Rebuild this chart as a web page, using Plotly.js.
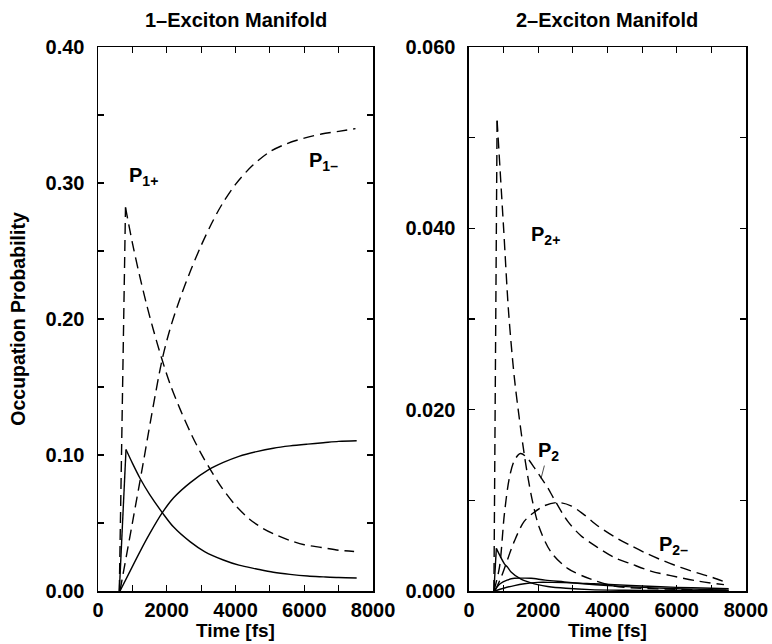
<!DOCTYPE html>
<html>
<head>
<meta charset="utf-8">
<script src="https://cdn.plot.ly/plotly-3.0.1.min.js"></script>
<style>html,body{margin:0;padding:0;background:#fff;}#chart{width:772px;height:644px;}</style>
</head>
<body>
<div id="chart"></div>
<script>
// ---- 1-Exciton manifold (left panel) ----
const p1PlusDashT = [620, 800, 1000, 1200, 1400, 1600, 1865, 2100, 2400, 2700, 3000, 3300, 3600, 4000, 4400, 4800, 5200, 5600, 6000, 6500, 7000, 7450];
const p1PlusDashV = [0, 0.282, 0.256, 0.233, 0.212, 0.193, 0.170, 0.152, 0.133, 0.116, 0.101, 0.088, 0.076, 0.063, 0.053, 0.046, 0.041, 0.037, 0.034, 0.032, 0.030, 0.029];

const p1MinusDashT = [640, 1000, 1300, 1550, 1865, 2100, 2400, 2700, 3000, 3300, 3600, 4000, 4500, 5000, 5500, 6000, 6500, 7000, 7490];
const p1MinusDashV = [0, 0.050, 0.092, 0.128, 0.170, 0.193, 0.216, 0.236, 0.254, 0.270, 0.284, 0.299, 0.313, 0.323, 0.329, 0.333, 0.336, 0.338, 0.340];

const p1PlusSolidT = [620, 815, 1000, 1222, 1500, 1871, 2200, 2676, 3100, 3646, 4100, 4616, 5100, 5585, 6100, 6554, 7000, 7525];
const p1PlusSolidV = [0, 0.104, 0.094, 0.0829, 0.071, 0.0576, 0.047, 0.0363, 0.029, 0.0228, 0.019, 0.0162, 0.0138, 0.0122, 0.011, 0.0104, 0.0099, 0.0096];

const p1MinusSolidT = [640, 900, 1222, 1500, 1871, 2200, 2676, 3210, 3646, 4100, 4616, 5100, 5585, 6100, 6554, 7000, 7525];
const p1MinusSolidV = [0, 0.013, 0.029, 0.042, 0.0576, 0.0685, 0.0795, 0.089, 0.0945, 0.099, 0.1025, 0.105, 0.1067, 0.108, 0.109, 0.110, 0.1105];

// ---- 2-Exciton manifold (right panel) ----
const p2PlusDashT = [720, 812, 1000, 1147, 1311, 1455, 1580, 1695, 1840, 2030, 2368, 2848, 3520, 4190, 5000, 6000, 7000, 7500];
const p2PlusDashV = [0, 0.0519, 0.040, 0.0306, 0.0235, 0.0190, 0.0155, 0.0127, 0.0098, 0.0070, 0.0043, 0.0025, 0.0013, 0.00055, 0.0003, 0.00018, 0.0001, 0.0001];

const p2DashT = [720, 879, 1023, 1167, 1311, 1484, 1650, 1888, 2080, 2272, 2464, 2848, 3233, 3713, 4193, 4674, 5250, 5827, 6594, 7363];
const p2DashV = [0, 0.0026, 0.0085, 0.0125, 0.0144, 0.01517, 0.0148, 0.0136, 0.0125, 0.0114, 0.0101, 0.0077, 0.0061, 0.0048, 0.0037, 0.0030, 0.0022, 0.0017, 0.0011, 0.0007];

const p2MinusDashT = [750, 928, 1311, 1599, 1888, 2176, 2560, 2945, 3329, 3713, 4193, 4674, 5154, 5634, 6115, 6594, 7026, 7458];
const p2MinusDashV = [0, 0.0015, 0.0055, 0.0077, 0.0087, 0.0094, 0.00976, 0.0094, 0.0084, 0.0072, 0.0060, 0.0050, 0.0041, 0.0033, 0.0026, 0.0020, 0.0015, 0.0009];

const p2PlusSolidT = [720, 790, 1023, 1119, 1215, 1503, 1792, 1984, 2272, 2800, 3500, 4500, 5500, 6500, 7500];
const p2PlusSolidV = [0, 0.0047, 0.0030, 0.0026, 0.0021, 0.0013, 0.0009, 0.0007, 0.0005, 0.0003, 0.00015, 0.00008, 0.00005, 0.00003, 0.00002];

const p2SolidT = [720, 900, 1100, 1311, 1600, 1792, 2200, 2752, 3300, 4000, 5000, 6000, 7000, 7500];
const p2SolidV = [0, 0.0008, 0.0012, 0.0014, 0.00142, 0.0014, 0.0012, 0.0010, 0.0008, 0.0006, 0.0004, 0.00025, 0.00015, 0.0001];

const p2MinusSolidT = [750, 1000, 1311, 1600, 1984, 2400, 3000, 3600, 4200, 5000, 6000, 7000, 7500];
const p2MinusSolidV = [0, 0.0003, 0.0006, 0.0008, 0.00095, 0.00095, 0.0009, 0.0008, 0.0007, 0.00055, 0.0004, 0.0003, 0.00025];

// tick labels
const xTickVals = [0, 2000, 4000, 6000, 8000];
const xTickText = ['0', '2000', '4000', '6000', '8000'];
const y1TickVals = [0, 0.1, 0.2, 0.3, 0.4];
const y1TickText = ['0.00', '0.10', '0.20', '0.30', '0.40'];
const y2TickVals = [0, 0.02, 0.04, 0.06];
const y2TickText = ['0.000', '0.020', '0.040', '0.060'];

const FONT = 'Liberation Sans, Arial, Helvetica, sans-serif';
const DASH = '11px,6px';
const LW = 1.4;

function line(x, y, dashed, xa, ya, shape) {
  return {x: x, y: y, xaxis: xa, yaxis: ya, mode: 'lines', type: 'scatter',
    line: {color: '#000', width: LW, dash: dashed ? DASH : 'solid', shape: shape, smoothing: 0.9}, hoverinfo: 'skip'};
}
// smooth curve
function smooth(x, y, dashed, xa, ya) { return [line(x, y, dashed, xa, ya, 'spline')]; }
// curve with a sharp peak: straight rise, smooth decay
function peaked(x, y, dashed, xa, ya) {
  let k = 0;
  for (let i = 1; i < y.length; i++) if (y[i] > y[k]) k = i;
  return [line(x.slice(0, k + 1), y.slice(0, k + 1), dashed, xa, ya, 'linear'),
          line(x.slice(k), y.slice(k), dashed, xa, ya, 'spline')];
}

const data = [].concat(
  peaked(p1PlusDashT, p1PlusDashV, true, 'x', 'y'),
  smooth(p1MinusDashT, p1MinusDashV, true, 'x', 'y'),
  peaked(p1PlusSolidT, p1PlusSolidV, false, 'x', 'y'),
  smooth(p1MinusSolidT, p1MinusSolidV, false, 'x', 'y'),
  peaked(p2PlusDashT, p2PlusDashV, true, 'x2', 'y2'),
  smooth(p2DashT, p2DashV, true, 'x2', 'y2'),
  smooth(p2MinusDashT, p2MinusDashV, true, 'x2', 'y2'),
  peaked(p2PlusSolidT, p2PlusSolidV, false, 'x2', 'y2'),
  smooth(p2SolidT, p2SolidV, false, 'x2', 'y2'),
  smooth(p2MinusSolidT, p2MinusSolidV, false, 'x2', 'y2')
);

function xAxis(domain, anchor) {
  return {domain: domain, anchor: anchor, range: [0, 8000], tickvals: xTickVals, ticktext: xTickText,
    ticks: 'inside', ticklen: 6, tickwidth: 1.2, tickcolor: '#000', mirror: 'ticks',
    showline: true, linecolor: '#000', linewidth: 1.5, showgrid: false, zeroline: false,
    minor: {dtick: 1000, tick0: 0, ticks: 'inside', ticklen: 6, tickwidth: 1.2, tickcolor: '#000', showgrid: false},
    tickfont: {family: FONT, size: 20, color: '#000', weight: 'bold'},
    title: {text: 'Time [fs]', font: {family: FONT, size: 19, color: '#000', weight: 'bold'}, standoff: 4}};
}
function yAxis(range, vals, text, minorDtick, anchor, title) {
  const a = {range: range, anchor: anchor, tickvals: vals, ticktext: text,
    ticks: 'inside', ticklen: 6, tickwidth: 1.2, tickcolor: '#000', mirror: 'ticks',
    showline: true, linecolor: '#000', linewidth: 1.5, showgrid: false, zeroline: false,
    minor: {dtick: minorDtick, tick0: 0, ticks: 'inside', ticklen: 6, tickwidth: 1.2, tickcolor: '#000', showgrid: false},
    tickfont: {family: FONT, size: 20, color: '#000', weight: 'bold'}, ticklabelstandoff: 8};
  if (title) a.title = {text: title, font: {family: FONT, size: 19.5, color: '#000', weight: 'bold'}, standoff: 14};
  return a;
}

const labFont = {family: FONT, size: 20, color: '#000', weight: 'bold'};
const titleFont = {family: FONT, size: 20, color: '#000', weight: 'bold'};
const layout = {
  width: 772, height: 644,
  margin: {l: 98, r: 26, t: 47, b: 53},
  paper_bgcolor: '#fff', plot_bgcolor: '#fff', showlegend: false,
  xaxis: xAxis([0, 0.4244], 'y'),
  yaxis: yAxis([0, 0.4], y1TickVals, y1TickText, 0.05, 'x', 'Occupation Probability'),
  xaxis2: xAxis([0.5725, 1], 'y2'),
  yaxis2: yAxis([0, 0.06], y2TickVals, y2TickText, 0.01, 'x2', null),
  annotations: [
    {text: '1–Exciton Manifold', xref: 'x domain', yref: 'paper', x: 0.5, y: 1, yanchor: 'middle', yshift: 27, showarrow: false, font: titleFont},
    {text: '2–Exciton Manifold', xref: 'x2 domain', yref: 'paper', x: 0.5, y: 1, yanchor: 'middle', yshift: 27, showarrow: false, font: titleFont},
    {text: 'P<sub>1+</sub>', xref: 'x', yref: 'y', x: 830, y: 0.305, xanchor: 'left', yanchor: 'middle', showarrow: false, font: labFont},
    {text: 'P<sub>1–</sub>', xref: 'x', yref: 'y', x: 6080, y: 0.316, xanchor: 'left', yanchor: 'middle', showarrow: false, font: labFont},
    {text: 'P<sub>2+</sub>', xref: 'x2', yref: 'y2', x: 1720, y: 0.0392, xanchor: 'left', yanchor: 'middle', showarrow: false, font: labFont},
    {text: 'P<sub>2</sub>', xref: 'x2', yref: 'y2', x: 2080, y: 0.0124, showarrow: true, arrowhead: 0, arrowwidth: 0.7, arrowcolor: '#000',
     ax: 7, ay: -27, standoff: 0, font: labFont},
    {text: 'P<sub>2–</sub>', xref: 'x2', yref: 'y2', x: 5420, y: 0.0050, xanchor: 'left', yanchor: 'middle', showarrow: false, font: labFont}
  ]
};

Plotly.newPlot('chart', data, layout, {staticPlot: true, displayModeBar: false});
</script>
</body>
</html>
